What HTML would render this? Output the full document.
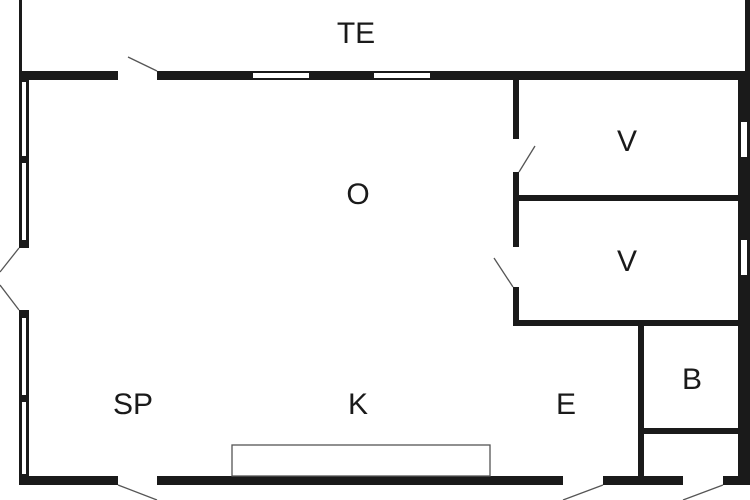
<!DOCTYPE html>
<html><head><style>html,body{margin:0;padding:0;background:#fff}svg{display:block}</style></head>
<body>
<svg width="750" height="500" xmlns="http://www.w3.org/2000/svg">
<rect width="750" height="500" fill="#fff"/>
<g fill="#1a1a1a">
<!-- TE strip sides -->
<rect x="19" y="0" width="3" height="75"/>
<rect x="745" y="0" width="5" height="75"/>
<!-- top wall -->
<rect x="19" y="71" width="99" height="9"/>
<rect x="157" y="71" width="593" height="9"/>
<!-- right wall -->
<rect x="738" y="71" width="12" height="414"/>
<!-- bottom wall -->
<rect x="19" y="476" width="99" height="9"/>
<rect x="157" y="476" width="406" height="9"/>
<rect x="603" y="476" width="80" height="9"/>
<rect x="723" y="476" width="27" height="9"/>
<!-- left wall: window frame -->
<rect x="19" y="79" width="10" height="169"/>
<rect x="19" y="310" width="10" height="175"/>
<!-- interior walls -->
<rect x="513" y="79" width="6" height="60"/>
<rect x="513" y="172" width="6" height="75"/>
<rect x="513" y="287" width="6" height="39"/>
<rect x="513" y="195" width="225" height="6"/>
<rect x="513" y="320" width="225" height="6"/>
<rect x="638" y="320" width="6" height="160"/>
<rect x="644" y="428" width="94" height="6"/>
</g>
<g fill="#fff">
<!-- top windows -->
<rect x="253" y="73" width="56" height="5"/>
<rect x="374" y="73" width="56" height="5"/>
<!-- right windows -->
<rect x="741" y="122" width="6" height="35"/>
<rect x="741" y="240" width="6" height="35"/>
<!-- left windows interior -->
<rect x="22" y="82" width="4" height="74"/>
<rect x="22" y="163" width="4" height="77"/>
<rect x="22" y="318" width="4" height="77"/>
<rect x="22" y="402" width="4" height="72"/>
</g>
<g stroke="#555" stroke-width="1.3" fill="none">
<line x1="157" y1="71" x2="128" y2="57"/>
<line x1="118" y1="485" x2="157" y2="500"/>
<line x1="563" y1="500" x2="603" y2="485"/>
<line x1="683" y1="500" x2="723" y2="485"/>
<line x1="519" y1="172" x2="535" y2="146"/>
<line x1="513" y1="287" x2="494" y2="258"/>
<line x1="19" y1="248" x2="0" y2="272"/>
<line x1="19" y1="310" x2="0" y2="285"/>
<rect x="232" y="445" width="258" height="31"/>
</g>
<g font-family="Liberation Sans, sans-serif" font-size="30" fill="#1a1a1a" text-anchor="middle">
<text x="356" y="43">TE</text>
<text x="358" y="204">O</text>
<text x="627" y="151">V</text>
<text x="627" y="271">V</text>
<text x="692" y="389">B</text>
<text x="133" y="414">SP</text>
<text x="358" y="414">K</text>
<text x="566" y="414">E</text>
</g>
</svg>
</body></html>
